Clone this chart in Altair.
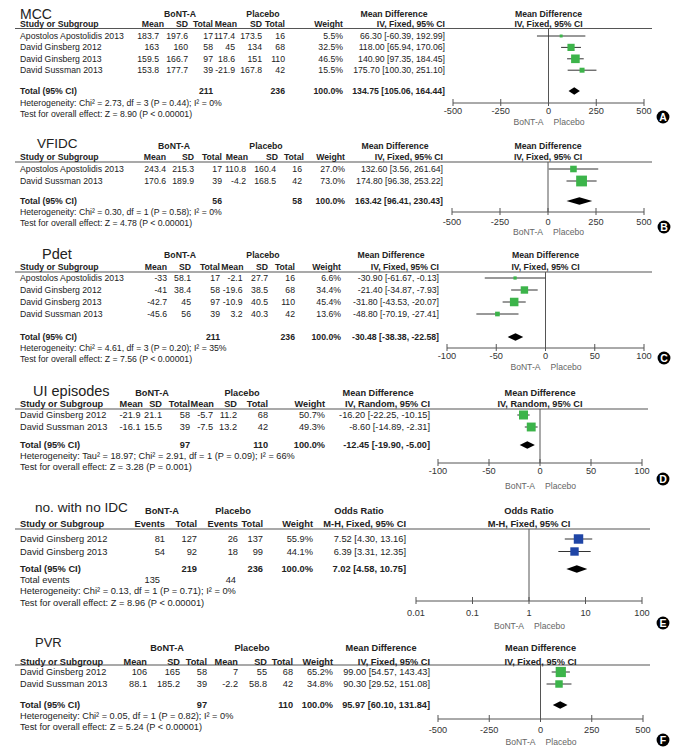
import altair as alt
import pandas as pd

FONT = "Liberation Sans"
OX, OY = 8, 8          # page margin: reference pixel -> chart pixel
TXT = "#222222"
GREEN = "#3cb44a"
BLUE = "#1f45a6"

# ------------------------------------------------------------------ data
# A  MCC
A_STUDIES = ["Apostolos Apostolidis 2013", "David Ginsberg 2012", "David Ginsberg 2013", "David Sussman 2013"]
A_T_MEAN = [183.7, 163, 159.5, 153.8]
A_T_SD = [197.6, 160, 166.7, 177.7]
A_T_N = [17, 58, 97, 39]
A_C_MEAN = [117.4, 45, 18.6, -21.9]
A_C_SD = [173.5, 134, 151, 167.8]
A_C_N = [16, 68, 110, 42]
A_WEIGHT = [5.5, 32.5, 46.5, 15.5]
A_EST = [66.30, 118.00, 140.90, 175.70]
A_LO = [-60.39, 65.94, 97.35, 100.30]
A_HI = [192.99, 170.06, 184.45, 251.10]
A_TOTALS = [211, 236]
A_POOLED = [134.75, 105.06, 164.44]
A_HET = "Heterogeneity: Chi² = 2.73, df = 3 (P = 0.44); I² = 0%"
A_TEST = "Test for overall effect: Z = 8.90 (P < 0.00001)"

# B  VFIDC
B_STUDIES = ["Apostolos Apostolidis 2013", "David Sussman 2013"]
B_T_MEAN = [243.4, 170.6]
B_T_SD = [215.3, 189.9]
B_T_N = [17, 39]
B_C_MEAN = [110.8, -4.2]
B_C_SD = [160.4, 168.5]
B_C_N = [16, 42]
B_WEIGHT = [27.0, 73.0]
B_EST = [132.60, 174.80]
B_LO = [3.56, 96.38]
B_HI = [261.64, 253.22]
B_TOTALS = [56, 58]
B_POOLED = [163.42, 96.41, 230.43]
B_HET = "Heterogeneity: Chi² = 0.30, df = 1 (P = 0.58); I² = 0%"
B_TEST = "Test for overall effect: Z = 4.78 (P < 0.00001)"

# C  Pdet
C_STUDIES = ["Apostolos Apostolidis 2013", "David Ginsberg 2012", "David Ginsberg 2013", "David Sussman 2013"]
C_T_MEAN = [-33, -41, -42.7, -45.6]
C_T_SD = [58.1, 38.4, 45, 56]
C_T_N = [17, 58, 97, 39]
C_C_MEAN = [-2.1, -19.6, -10.9, 3.2]
C_C_SD = [27.7, 38.5, 40.5, 40.3]
C_C_N = [16, 68, 110, 42]
C_WEIGHT = [6.6, 34.4, 45.4, 13.6]
C_EST = [-30.90, -21.40, -31.80, -48.80]
C_LO = [-61.67, -34.87, -43.53, -70.19]
C_HI = [-0.13, -7.93, -20.07, -27.41]
C_TOTALS = [211, 236]
C_POOLED = [-30.48, -38.38, -22.58]
C_HET = "Heterogeneity: Chi² = 4.61, df = 3 (P = 0.20); I² = 35%"
C_TEST = "Test for overall effect: Z = 7.56 (P < 0.00001)"

# D  UI episodes
D_STUDIES = ["David Ginsberg 2012", "David Sussman 2013"]
D_T_MEAN = [-21.9, -16.1]
D_T_SD = [21.1, 15.5]
D_T_N = [58, 39]
D_C_MEAN = [-5.7, -7.5]
D_C_SD = [11.2, 13.2]
D_C_N = [68, 42]
D_WEIGHT = [50.7, 49.3]
D_EST = [-16.20, -8.60]
D_LO = [-22.25, -14.89]
D_HI = [-10.15, -2.31]
D_TOTALS = [97, 110]
D_POOLED = [-12.45, -19.90, -5.00]
D_HET = "Heterogeneity: Tau² = 18.97; Chi² = 2.91, df = 1 (P = 0.09); I² = 66%"
D_TEST = "Test for overall effect: Z = 3.28 (P = 0.001)"

# E  no. with no IDC (odds ratio)
E_STUDIES = ["David Ginsberg 2012", "David Ginsberg 2013"]
E_T_EVENTS = [81, 54]
E_T_N = [127, 92]
E_C_EVENTS = [26, 18]
E_C_N = [137, 99]
E_WEIGHT = [55.9, 44.1]
E_EST = [7.52, 6.39]
E_LO = [4.30, 3.31]
E_HI = [13.16, 12.35]
E_TOTALS = [219, 236]
E_TOTAL_EVENTS = [135, 44]
E_POOLED = [7.02, 4.58, 10.75]
E_HET = "Heterogeneity: Chi² = 0.13, df = 1 (P = 0.71); I² = 0%"
E_TEST = "Test for overall effect: Z = 8.96 (P < 0.00001)"

# F  PVR
F_STUDIES = ["David Ginsberg 2012", "David Sussman 2013"]
F_T_MEAN = [106, 88.1]
F_T_SD = [165, 185.2]
F_T_N = [58, 39]
F_C_MEAN = [7, -2.2]
F_C_SD = [55, 58.8]
F_C_N = [68, 42]
F_WEIGHT = [65.2, 34.8]
F_EST = [99.00, 90.30]
F_LO = [54.57, 29.52]
F_HI = [143.43, 151.08]
F_TOTALS = [97, 110]
F_POOLED = [95.97, 60.10, 131.84]
F_HET = "Heterogeneity: Chi² = 0.05, df = 1 (P = 0.82); I² = 0%"
F_TEST = "Test for overall effect: Z = 5.24 (P < 0.00001)"

MD_TICKS_500 = [-500, -250, 0, 250, 500]
MD_TICKS_100 = [-100, -50, 0, 50, 100]
OR_TICKS = [0.01, 0.1, 1, 10, 100]

CONT_HEADERS = ["Mean", "SD", "Total", "Mean", "SD", "Total", "Weight"]
DICH_HEADERS = ["Events", "Total", "Events", "Total", "Weight"]


def fmt(v):
    return f"{v:g}"


def cont_rows(tm, tsd, tn, cm, csd, cn, w):
    return [[fmt(a), fmt(b), str(c), fmt(d), fmt(e), str(f), f"{g:.1f}%"]
            for a, b, c, d, e, f, g in zip(tm, tsd, tn, cm, csd, cn, w)]


def dich_rows(te, tn, ce, cn, w):
    return [[str(a), str(b), str(c), str(d), f"{e:.1f}%"] for a, b, c, d, e in zip(te, tn, ce, cn, w)]


PANELS = [
    dict(letter="A", title="MCC", kind="cont", effect="Mean Difference", method="IV, Fixed, 95% CI",
         studies=A_STUDIES, rows=cont_rows(A_T_MEAN, A_T_SD, A_T_N, A_C_MEAN, A_C_SD, A_C_N, A_WEIGHT),
         weight=A_WEIGHT, est=A_EST, lo=A_LO, hi=A_HI, totals=A_TOTALS, pooled=A_POOLED,
         het=A_HET, test=A_TEST, stype="linear", domain=[-500, 500], ticks=MD_TICKS_500, null=0, color=GREEN),
    dict(letter="B", title="VFIDC", kind="cont", effect="Mean Difference", method="IV, Fixed, 95% CI",
         studies=B_STUDIES, rows=cont_rows(B_T_MEAN, B_T_SD, B_T_N, B_C_MEAN, B_C_SD, B_C_N, B_WEIGHT),
         weight=B_WEIGHT, est=B_EST, lo=B_LO, hi=B_HI, totals=B_TOTALS, pooled=B_POOLED,
         het=B_HET, test=B_TEST, stype="linear", domain=[-500, 500], ticks=MD_TICKS_500, null=0, color=GREEN),
    dict(letter="C", title="Pdet", kind="cont", effect="Mean Difference", method="IV, Fixed, 95% CI",
         studies=C_STUDIES, rows=cont_rows(C_T_MEAN, C_T_SD, C_T_N, C_C_MEAN, C_C_SD, C_C_N, C_WEIGHT),
         weight=C_WEIGHT, est=C_EST, lo=C_LO, hi=C_HI, totals=C_TOTALS, pooled=C_POOLED,
         het=C_HET, test=C_TEST, stype="linear", domain=[-100, 100], ticks=MD_TICKS_100, null=0, color=GREEN),
    dict(letter="D", title="UI episodes", kind="cont", effect="Mean Difference", method="IV, Random, 95% CI",
         studies=D_STUDIES, rows=cont_rows(D_T_MEAN, D_T_SD, D_T_N, D_C_MEAN, D_C_SD, D_C_N, D_WEIGHT),
         weight=D_WEIGHT, est=D_EST, lo=D_LO, hi=D_HI, totals=D_TOTALS, pooled=D_POOLED,
         het=D_HET, test=D_TEST, stype="linear", domain=[-100, 100], ticks=MD_TICKS_100, null=0, color=GREEN),
    dict(letter="E", title="no. with no IDC", kind="dich", effect="Odds Ratio", method="M-H, Fixed, 95% CI",
         studies=E_STUDIES, rows=dich_rows(E_T_EVENTS, E_T_N, E_C_EVENTS, E_C_N, E_WEIGHT),
         weight=E_WEIGHT, est=E_EST, lo=E_LO, hi=E_HI, totals=E_TOTALS, pooled=E_POOLED,
         events=E_TOTAL_EVENTS,
         het=E_HET, test=E_TEST, stype="log", domain=[0.01, 100], ticks=OR_TICKS, null=1, color=BLUE),
    dict(letter="F", title="PVR", kind="cont", effect="Mean Difference", method="IV, Fixed, 95% CI",
         studies=F_STUDIES, rows=cont_rows(F_T_MEAN, F_T_SD, F_T_N, F_C_MEAN, F_C_SD, F_C_N, F_WEIGHT),
         weight=F_WEIGHT, est=F_EST, lo=F_LO, hi=F_HI, totals=F_TOTALS, pooled=F_POOLED,
         het=F_HET, test=F_TEST, stype="linear", domain=[-500, 500], ticks=MD_TICKS_500, null=0, color=GREEN),
]

# ------------------------------------------------------------------ layout (reference pixels)
LAYOUTS = [
    dict(title=(20, 15.2, 14), fs=8.7, h1=14, grp=(180, 263), eff_c=394, h2=24,
         hcols=[164, 188, 213, 237, 262, 285, 343], vcols=[159, 188, 213, 235, 262, 285, 343],
         ci_r=445, line=(15, 652, 28.5), base=36, dy=11.4,
         total=91, het=103, test=114, axis=(453, 644, 103), tl=111, bp=122, circle=(663, 117)),
    dict(title=(37, 144, 13.5), fs=8.7, h1=146, grp=(174, 266), eff_c=395, h2=157,
         hcols=[166, 194, 222, 248, 278, 304, 345], vcols=[166, 194, 222, 246, 276, 302, 345],
         ci_r=443, line=(15, 652, 162), base=169, dy=12,
         total=201, het=212, test=223, axis=(452, 644, 212), tl=222, bp=232, circle=(664, 227)),
    dict(title=(42, 255, 14.5), fs=8.7, h1=255, grp=(180, 263), eff_c=391, h2=267,
         hcols=[167, 191, 220, 243.5, 268, 295, 341], vcols=[167, 191, 220, 242.5, 268, 295, 341],
         ci_r=439, line=(15, 652, 272), base=278, dy=12,
         total=337, het=348, test=359, axis=(447, 644, 348), tl=356, bp=367, circle=(664, 358)),
    dict(title=(33, 392, 14.5), fs=9.2, h1=393, grp=(152, 242), eff_c=378, h2=404,
         hcols=[143, 162, 190, 214, 237, 268, 325], vcols=[140.5, 162, 190, 213, 237, 268, 325],
         ci_r=430, line=(15, 648, 409), base=415, dy=12,
         total=445, het=456, test=467, axis=(438, 642, 463), tl=471, bp=486, circle=(663, 479)),
    dict(title=(35, 508, 13.6), fs=9.3, h1=511, grp=(162, 233), eff_c=359, h2=524,
         hcols=[165, 197, 238, 263, 313], vcols=[165, 197, 238, 263, 313],
         ci_r=406, line=(15, 650, 529), base=539, dy=12.5,
         total=569, events=580, events_x=(160, 236), het=591, test=603,
         axis=(416, 642, 601), tl=613, bp=626, circle=(663, 623)),
    dict(title=(35, 643, 13), fs=9.2, h1=648, grp=(167, 252), eff_c=381, h2=662,
         hcols=[147, 180, 207, 238, 267, 293, 333], vcols=[147, 180, 207, 238, 267, 293, 333],
         ci_r=430, line=(15, 650, 665), base=672, dy=12,
         total=705, het=716, test=727, axis=(438, 643, 719), tl=730, bp=742, circle=(663, 740)),
]

texts = []


def add(t, x, y, style, fs, col=TXT):
    texts.append(dict(text=str(t), x=x - OX, y=y - OY, style=style, fs=fs, col=col))


def ci_str(e, l, h):
    return f"{e:.2f} [{l:.2f}, {h:.2f}]"


lines = []
circles = []
for p, L in zip(PANELS, LAYOUTS):
    fs = L["fs"]
    x0, x1, ay = L["axis"]
    pc = (x0 + x1) / 2
    tx, ty, tfs = L["title"]
    add(p["title"], tx, ty, "l", tfs)
    add("BoNT-A", L["grp"][0], L["h1"], "bc", fs)
    add("Placebo", L["grp"][1], L["h1"], "bc", fs)
    add(p["effect"], L["eff_c"], L["h1"], "bc", fs)
    add(p["effect"], pc, L["h1"], "bc", fs)
    add("Study or Subgroup", 20, L["h2"], "bl", fs)
    heads = CONT_HEADERS if p["kind"] == "cont" else DICH_HEADERS
    for h, cx in zip(heads, L["hcols"]):
        add(h, cx, L["h2"], "br", fs)
    add(p["method"], L["ci_r"], L["h2"], "br", fs)
    add(p["method"], pc, L["h2"], "bc", fs)
    vc = L["vcols"]
    for i, (s, vals) in enumerate(zip(p["studies"], p["rows"])):
        y = L["base"] + i * L["dy"]
        add(s, 20, y, "l", fs)
        for v, cx in zip(vals, vc):
            add(v, cx, y, "r", fs)
        add(ci_str(p["est"][i], p["lo"][i], p["hi"][i]), L["ci_r"], y, "r", fs)
    add("Total (95% CI)", 20, L["total"], "bl", fs)
    if p["kind"] == "cont":
        tcols = [vc[2], vc[5]]
    else:
        tcols = [vc[1], vc[3]]
    add(p["totals"][0], tcols[0], L["total"], "br", fs)
    add(p["totals"][1], tcols[1], L["total"], "br", fs)
    add("100.0%", vc[-1], L["total"], "br", fs)
    add(ci_str(*p["pooled"]), L["ci_r"], L["total"], "br", fs)
    if "events" in p:
        add("Total events", 20, L["events"], "l", fs)
        add(p["events"][0], L["events_x"][0], L["events"], "r", fs)
        add(p["events"][1], L["events_x"][1], L["events"], "r", fs)
    add(p["het"], 20, L["het"], "l", fs)
    add(p["test"], 20, L["test"], "l", fs)
    add(p["letter"], L["circle"][0], L["circle"][1] + 0.5, "bc", 10.5, "#ffffff")
    lx0, lx1, ly = L["line"]
    lines.append(dict(a=lx0 - OX, b=lx1 - OX, y=ly - OY))
    circles.append(dict(x=L["circle"][0] - OX, y=L["circle"][1] - OY))

tdf = pd.DataFrame(texts)


def text_layer(style, align, bold):
    return alt.Chart(tdf).transform_filter(alt.datum.style == style).mark_text(
        align=align, baseline="middle", font=FONT, fontWeight="bold" if bold else "normal"
    ).encode(
        x=alt.X("x:Q", scale=None, axis=None),
        y=alt.Y("y:Q", scale=None, axis=None),
        text="text:N",
        size=alt.Size("fs:Q", scale=None, legend=None),
        color=alt.Color("col:N", scale=None, legend=None),
    )


text_layers = [
    text_layer("l", "left", False), text_layer("r", "right", False),
    text_layer("bl", "left", True), text_layer("br", "right", True), text_layer("bc", "center", True),
]

header_lines = alt.Chart(pd.DataFrame(lines)).mark_rule(color="#555555", strokeWidth=1.2).encode(
    x=alt.X("a:Q", scale=None, axis=None), x2="b:Q", y=alt.Y("y:Q", scale=None, axis=None))

circle_layer = alt.Chart(pd.DataFrame(circles)).mark_circle(color="black", opacity=1, size=165).encode(
    x=alt.X("x:Q", scale=None, axis=None), y=alt.Y("y:Q", scale=None, axis=None))


def forest(p, L):
    x0, x1, ay = L["axis"]
    skw = dict(type=p["stype"], domain=p["domain"], range=[x0 - OX, x1 - OX], nice=False)
    if p["stype"] == "linear":
        skw["zero"] = False
    xs = alt.Scale(**skw)
    ys = alt.Scale(domain=[0, 1], range=[L["base"] - OY, L["base"] - OY + L["dy"]], nice=False, zero=False)
    n = len(p["est"])
    sdf = pd.DataFrame(dict(row=list(range(n)), est=p["est"], lo=p["lo"], hi=p["hi"], w=p["weight"]))
    ci = alt.Chart(sdf).mark_rule(color="#333333", strokeWidth=1).encode(
        x=alt.X("lo:Q", scale=xs, axis=None), x2="hi:Q", y=alt.Y("row:Q", scale=ys, axis=None))
    sq = alt.Chart(sdf).mark_square(color=p["color"], opacity=1).encode(
        x=alt.X("est:Q", scale=xs, axis=None), y=alt.Y("row:Q", scale=ys, axis=None),
        size=alt.Size("w:Q", scale=alt.Scale(domain=[0, 100], range=[0, 160]), legend=None))
    tr = (L["total"] - L["base"]) / L["dy"]
    hh = 3.8 / L["dy"]
    pe, pl, ph = p["pooled"]
    ddf = pd.DataFrame(dict(x=[pl, pe, ph], yt=[tr, tr - hh, tr], yb=[tr, tr + hh, tr]))
    dia = alt.Chart(ddf).mark_area(color="black", orient="vertical", opacity=1).encode(
        x=alt.X("x:Q", scale=xs, axis=None), y=alt.Y("yt:Q", scale=ys, axis=None), y2="yb:Q")
    zdf = pd.DataFrame(dict(v=[p["null"]]))
    zero = alt.Chart(zdf).mark_rule(color="#555555", strokeWidth=1).encode(
        x=alt.X("v:Q", scale=xs, axis=None), y=alt.value(L["line"][2] - OY), y2=alt.value(ay - OY))
    adf = pd.DataFrame(dict(a=[p["domain"][0]], b=[p["domain"][1]]))
    axl = alt.Chart(adf).mark_rule(color="#555555", strokeWidth=1).encode(
        x=alt.X("a:Q", scale=xs, axis=None), x2="b:Q", y=alt.value(ay - OY))
    kdf = pd.DataFrame(dict(t=p["ticks"], lab=[fmt(t) for t in p["ticks"]]))
    ticks = alt.Chart(kdf).mark_rule(color="#555555", strokeWidth=1).encode(
        x=alt.X("t:Q", scale=xs, axis=None), y=alt.value(ay - OY - 4), y2=alt.value(ay - OY + 3))
    labels = alt.Chart(kdf).mark_text(font=FONT, fontSize=9.2, color="#333333", baseline="middle").encode(
        x=alt.X("t:Q", scale=xs, axis=None), y=alt.value(L["tl"] - OY), text="lab:N")
    bp1 = alt.Chart(zdf).mark_text(font=FONT, fontSize=8.6, color="#666666", align="right", dx=-5,
                                   baseline="middle", text="BoNT-A").encode(
        x=alt.X("v:Q", scale=xs, axis=None), y=alt.value(L["bp"] - OY))
    bp2 = alt.Chart(zdf).mark_text(font=FONT, fontSize=8.6, color="#666666", align="left", dx=5,
                                   baseline="middle", text="Placebo").encode(
        x=alt.X("v:Q", scale=xs, axis=None), y=alt.value(L["bp"] - OY))
    return alt.layer(zero, axl, ticks, labels, bp1, bp2, ci, sq, dia)


forests = [forest(p, L) for p, L in zip(PANELS, LAYOUTS)]

chart = alt.layer(header_lines, circle_layer, *text_layers, *forests).resolve_scale(
    x="independent", y="independent", size="independent"
).properties(width=663, height=742, padding=0, autosize="none").configure_view(stroke=None)

chart.save("out.html", embed_options={"renderer": "svg", "actions": False})
